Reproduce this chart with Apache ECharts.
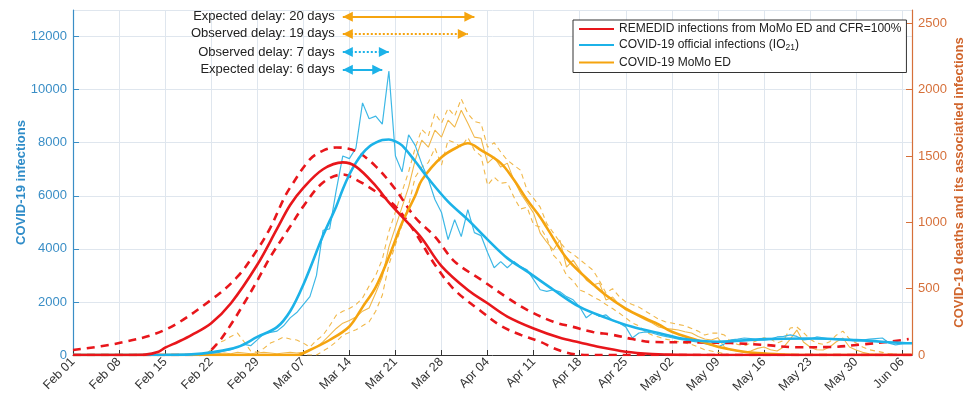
<!DOCTYPE html>
<html><head><meta charset="utf-8">
<script src="https://cdn.jsdelivr.net/npm/echarts@6/dist/echarts.min.js"></script>
<style>html,body{margin:0;padding:0;background:#fff}#c{width:973px;height:403px}</style>
</head><body><div id="c"></div>
<script>
// x values are days since Feb 01 2020
const tickLabels = ['Feb 01','Feb 08','Feb 15','Feb 22','Feb 29','Mar 07','Mar 14','Mar 21','Mar 28','Apr 04','Apr 11','Apr 18','Apr 25','May 02','May 09','May 16','May 23','May 30','Jun 06'];

// REMEDID infections (right axis units), [day, value]
const redMid = [[0,0],[9,0],[11,3],[13,25],[14,55],[16,100],[18,150],[21,240],[24,390],[28,680],[31,950],[33,1130],[35,1260],[38,1400],[41,1452],[43,1420],[46,1275],[48,1150],[51,990],[53,880],[56,670],[60,490],[63,390],[66,290],[70,200],[74,130],[77,95],[80,60],[84,25],[88,8],[92,1],[96,0],[127.5,0]];
const redUp = [[0,38],[7,90],[14,190],[21,416],[25,590],[28,794],[30,960],[32,1174],[33,1262],[36,1474],[38,1540],[40,1564],[43,1536],[46,1422],[49,1248],[52,1036],[55,892],[58,704],[62,568],[66,432],[69,340],[73,250],[76,212],[79,174],[82,152],[85,120],[88,98],[95,95],[100,90],[105,76],[110,58],[115,60],[120,80],[124,100],[127,120]];
const redLo = [[0,0],[19,0],[20,5],[22,90],[24,230],[26,390],[28,560],[30,740],[33,968],[35,1120],[38,1300],[41,1360],[43,1322],[46,1232],[49,1120],[52,922],[55,680],[58,490],[62,330],[65,220],[68,152],[71,100],[73,52],[75,18],[77,2],[79,0],[127.5,0]];

// COVID-19 official infections, smoothed (left axis), [day, value]
const blueThick = [[0,0],[14,5],[18,25],[21,100],[25,300],[28,680],[31,1050],[33,1650],[35,2650],[38,4500],[40,5600],[41,6250],[42,6800],[43,7250],[44,7600],[45,7850],[46,8000],[47,8100],[48,8120],[49,8050],[50,7900],[52,7300],[54,6650],[57,5780],[60,5100],[63,4350],[66,3650],[69,3150],[73,2460],[77,1810],[81,1400],[85,1060],[89,830],[93,600],[98,500],[105,600],[112,620],[119,560],[126,450],[127.5,440]];
// daily official infections, day 0..127 (left axis)
const blueThin = [
0,0,0,0,0,0,0,0,0,0,0,0,0,0,0,
5,10,15,20,30,
50,70,90,150,200,300,400,350,570,800,
850,900,1100,1400,1600,1900,2200,3000,4700,4750,
6200,7500,7400,7800,9500,8900,9000,8700,10700,7500,
6900,8300,7900,7200,6620,5860,5370,4350,5100,4460,
5480,4610,4500,3860,3290,3520,3290,3520,3330,3210,
2840,2460,2400,2460,2380,2200,2080,1810,1400,1590,
1450,1510,1300,1210,1060,640,830,870,830,760,
700,650,600,560,520,480,430,380,300,420,
570,600,640,620,570,560,600,680,700,760,
700,570,600,680,650,600,580,570,560,530,
560,600,620,640,450,380,420,450];

// MoMo ED (right axis)
const orangeThick = [[0,0],[34,0],[36,38],[39,113],[42,215],[44,361],[46,512],[48,738],[50,994],[52,1200],[53,1318],[56,1491],[59,1581],[60,1596],[62,1544],[65,1446],[67,1320],[69,1170],[71,1039],[72,960],[75,730],[78,580],[81,450],[84,350],[87,275],[89,230],[91,175],[95,110],[98,62],[101,32],[104,14],[108,4],[112,0],[127.5,0]];
const orangeThin = [
0,0,0,0,0,0,0,0,0,0,0,0,0,0,0,0,0,0,0,0,0,
5,10,15,10,20,15,10,15,20,15,10,15,20,15,
20,40,60,100,150,200,240,260,286,330,
354,467,587,813,964,1114,1265,1468,1619,1566,
1694,1642,1770,1717,1845,1747,1642,1634,1446,1491,
1416,1446,1318,1220,1145,1069,919,850,791,866,
663,715,640,565,527,542,414,437,380,339,
316,290,264,241,211,200,195,188,175,166,
140,120,113,130,60,38,30,20,30,50,
60,40,30,60,120,188,98,60,40,38,
60,100,128,60,38,20,10,5,0,0,0,0,0];
const orangeUp = [
0,0,0,0,0,0,0,0,0,0,0,0,0,0,0,0,0,0,0,0,
0,40,90,110,140,165,100,30,20,50,
90,110,135,120,113,90,60,110,150,220,
300,330,350,380,430,520,600,720,930,1080,
1230,1380,1560,1700,1650,1822,1747,1860,1800,1930,
1820,1760,1747,1566,1600,1530,1468,1430,1393,1242,
1180,1114,990,920,850,791,760,720,680,640,
560,467,500,440,400,380,361,330,300,270,
250,241,230,220,200,180,150,165,165,150,
100,80,70,90,110,130,120,90,110,203,
211,170,120,90,80,100,150,180,120,90,
60,40,30,20,10,5,0,0];
const orangeLo = [
0,0,0,0,0,0,0,0,0,0,0,0,0,0,0,0,0,0,0,0,0,0,0,0,0,0,0,0,0,0,0,0,0,0,0,0,0,0,
30,60,100,150,170,190,220,250,330,450,
680,830,980,1130,1340,1416,1450,1560,1431,1620,
1600,1566,1640,1544,1500,1280,1340,1295,1300,1190,
1100,1114,980,964,880,753,700,602,560,490,
470,440,414,380,350,316,280,241,220,173,
150,135,120,110,100,90,80,60,40,30,
20,10,
0,0,0,0,0,0,0,0,0,0,0,0,0,0,0,0,0,0,0,0,0,0,0,0,0,0,0,0];

// delay annotations
const delayLabels = ['Expected delay: 20 days','Observed delay: 19 days','Observed delay: 7 days','Expected delay: 6 days'];
const delayFrom = [41,41,41,41];
const delayTo = [61,60,48,47];

const RED='#e8161b', BLUE='#1cb2e8', ORANGE='#f5a40f', ORANGE_T='#f1b84a', BLUE_T='#3db8e6';
const LBLUE='#3a8ec6', RORANGE='#d6703a';
const FONT='"Liberation Sans", Arial, Helvetica, sans-serif';
const daily = arr => arr.map((v,i)=>[i,v]);

const annY = [12750,12100,11420,10750];
const annColor = [ORANGE, ORANGE, BLUE, BLUE];
const annType = ['solid','dotted','dotted','solid'];

const chart = echarts.init(document.getElementById('c'), null, {renderer:'canvas'});
const base = {type:'line', showSymbol:false, symbol:'none', animation:false, silent:true};
chart.setOption({
  backgroundColor:'#fff',
  animation:false,
  textStyle:{fontFamily:FONT},
  grid:{left:73, right:61, top:10, bottom:48, containLabel:false, outerBoundsMode:'none'},
  legend:{
    data:['REMEDID infections from MoMo ED and CFR=100%','COVID-19 official infections (IO21)','COVID-19 MoMo ED'],
    orient:'vertical', left:573, top:20, backgroundColor:'#fff',
    borderColor:'#333', borderWidth:1, padding:[3,5,4,5],
    itemWidth:35, itemHeight:14, itemGap:4, selectedMode:false,
    itemStyle:{opacity:0, borderWidth:0},
    textStyle:{fontSize:12, color:'#222', fontFamily:FONT,
      rich:{t:{fontSize:12,color:'#222',fontFamily:FONT}, s:{fontSize:8.5,color:'#222',fontFamily:FONT,padding:[6,0,0,0]}}},
    formatter: n => n==='COVID-19 official infections (IO21)' ? '{t|COVID-19 official infections (IO}{s|21}{t|)}' : n
  },
  xAxis:{type:'value', min:0, max:127.5, interval:7,
    axisLine:{lineStyle:{color:'#333', width:1}},
    axisTick:{inside:true, length:5, lineStyle:{color:'#333'}},
    axisLabel:{rotate:45, fontSize:12.5, color:'#333', margin:5, showMaxLabel:false,
      formatter: v => (v%7===0 && tickLabels[v/7]) ? tickLabels[v/7] : ''},
    splitLine:{show:true, lineStyle:{color:'#dfe6ee', width:1}}},
  yAxis:[
    {type:'value', min:0, max:13000, interval:2000, position:'left',
     name:'COVID-19 infections', nameLocation:'middle', nameGap:45, nameRotate:90, nameMoveOverlap:false,
     nameTextStyle:{color:'#2f8cc8', fontSize:13, fontWeight:'bold', fontFamily:FONT},
     axisLine:{show:true, lineStyle:{color:LBLUE, width:1.2}},
     axisTick:{show:true, inside:true, length:6, lineStyle:{color:LBLUE}},
     axisLabel:{color:LBLUE, fontSize:13, margin:6, showMaxLabel:false, formatter: v => v>12000?'':String(v)},
     splitLine:{show:true, lineStyle:{color:'#dfe6ee', width:1}}},
    {type:'value', min:0, max:2600, interval:500, position:'right',
     name:'COVID-19 deaths and its associatied infections', nameLocation:'middle', nameGap:41, nameRotate:90, nameMoveOverlap:false,
     nameTextStyle:{color:'#d0652c', fontSize:13, fontWeight:'bold', fontFamily:FONT},
     axisLine:{show:true, lineStyle:{color:RORANGE, width:1.2}},
     axisTick:{show:true, inside:true, length:6, lineStyle:{color:RORANGE}},
     axisLabel:{color:RORANGE, fontSize:13, margin:6, showMaxLabel:false, formatter: v => v>2500?'':String(v)},
     splitLine:{show:false}}
  ],
  series:[
    Object.assign({}, base, {name:'oUp', yAxisIndex:1, data:daily(orangeUp), lineStyle:{color:ORANGE_T, width:1.1, type:[5,4]}}),
    Object.assign({}, base, {name:'oLo', yAxisIndex:1, data:daily(orangeLo), lineStyle:{color:ORANGE_T, width:1.1, type:[5,4]}}),
    Object.assign({}, base, {name:'oThin', yAxisIndex:1, data:daily(orangeThin), lineStyle:{color:ORANGE_T, width:1.1}}),
    Object.assign({}, base, {name:'bThin', yAxisIndex:0, data:daily(blueThin), lineStyle:{color:BLUE_T, width:1.2}}),
    Object.assign({}, base, {name:'rUp', yAxisIndex:1, data:redUp, smooth:0.35, lineStyle:{color:RED, width:2.6, type:[8,6]}}),
    Object.assign({}, base, {name:'rLo', yAxisIndex:1, data:redLo, smooth:0.35, lineStyle:{color:RED, width:2.6, type:[8,6]}}),
    Object.assign({}, base, {name:'COVID-19 MoMo ED', yAxisIndex:1, data:orangeThick, smooth:0.35, itemStyle:{color:ORANGE}, lineStyle:{color:ORANGE, width:2.6}}),
    Object.assign({}, base, {name:'COVID-19 official infections (IO21)', yAxisIndex:0, data:blueThick, smooth:0.35, itemStyle:{color:BLUE}, lineStyle:{color:BLUE, width:2.6}}),
    Object.assign({}, base, {name:'REMEDID infections from MoMo ED and CFR=100%', yAxisIndex:1, data:redMid, smooth:0.35, itemStyle:{color:RED}, lineStyle:{color:RED, width:2.6}}),
    Object.assign({}, base, {name:'ann', yAxisIndex:0, data:[],
      markLine:{silent:true, animation:false, symbol:['triangle','triangle'], symbolSize:[10,10], symbolOffset:[[0,5],[0,5]],
        data: delayLabels.map((t,i)=>[
          {coord:[delayFrom[i], annY[i]], itemStyle:{color:annColor[i], opacity:1},
           lineStyle:{color:annColor[i], width:2, type:annType[i]},
           label:{show:true, position:'start', formatter:t, color:'#222', fontSize:13, distance:8, fontFamily:FONT}},
          {coord:[delayTo[i], annY[i]]}
        ])}})
  ]
});
</script></body></html>
